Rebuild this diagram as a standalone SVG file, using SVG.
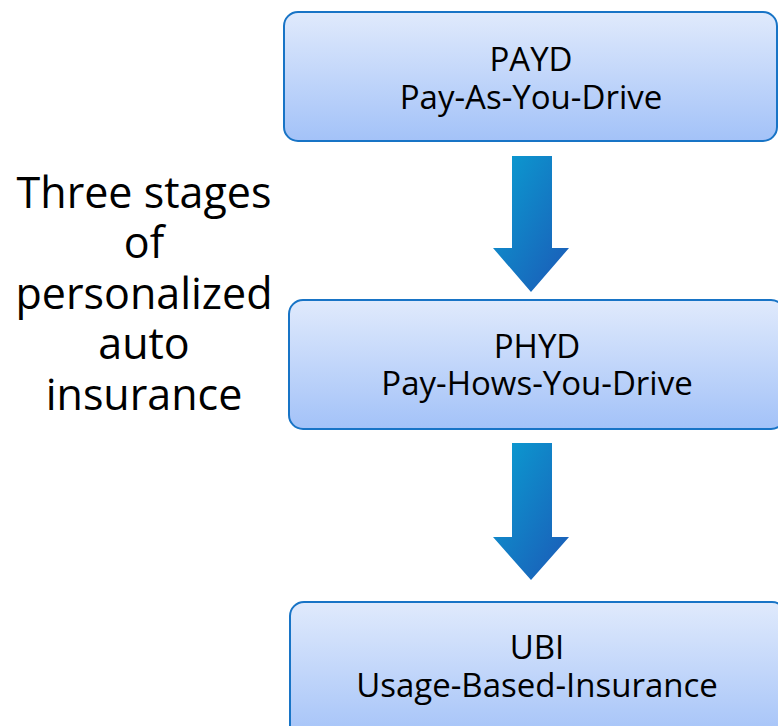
<svg xmlns="http://www.w3.org/2000/svg" width="778" height="726" viewBox="0 0 778 726">
<defs>
<linearGradient id="boxg" x1="0" y1="0" x2="0" y2="1">
<stop offset="0" stop-color="#e0eafc"/>
<stop offset="1" stop-color="#a3c2f8"/>
</linearGradient>
<linearGradient id="arrg" x1="0" y1="0" x2="1" y2="1">
<stop offset="0" stop-color="#0a9fd2"/>
<stop offset="1" stop-color="#1c58b6"/>
</linearGradient>
</defs>
<style>
.box{fill:url(#boxg);stroke:#1874c6;stroke-width:2}
.arr{fill:url(#arrg)}
.t{font-family:"Open Sans","Noto Sans","DejaVu Sans",sans-serif;fill:#000;text-anchor:middle}
.n{font-size:33px}
.title{font-size:43px}
</style>
<g id="title">
<text class="t title"><tspan x="144" y="208">Three stages</tspan><tspan x="144" y="258">of</tspan><tspan x="144" y="309">personalized</tspan><tspan x="144" y="359">auto</tspan><tspan x="144" y="410">insurance</tspan></text>
</g>
<g id="payd">
<rect class="box" x="284" y="12" width="493" height="129" rx="14"/>
<text class="t n"><tspan x="531" y="71">PAYD</tspan><tspan x="531" y="109">Pay-As-You-Drive</tspan></text>
</g>
<g id="phyd">
<rect class="box" x="289" y="300" width="496" height="129" rx="14"/>
<text class="t n"><tspan x="537" y="358">PHYD</tspan><tspan x="537" y="395">Pay-Hows-You-Drive</tspan></text>
</g>
<g id="ubi">
<rect class="box" x="290" y="602" width="496" height="140" rx="14"/>
<text class="t n"><tspan x="537" y="659">UBI</tspan><tspan x="537" y="697">Usage-Based-Insurance</tspan></text>
</g>
<g id="connectors">
<polygon class="arr" points="512,156 552,156 552,248 569,248 531,292 493,248 512,248"/>
<polygon class="arr" points="512,443 552,443 552,537 569,537 531,580 493,537 512,537"/>
</g>
</svg>
